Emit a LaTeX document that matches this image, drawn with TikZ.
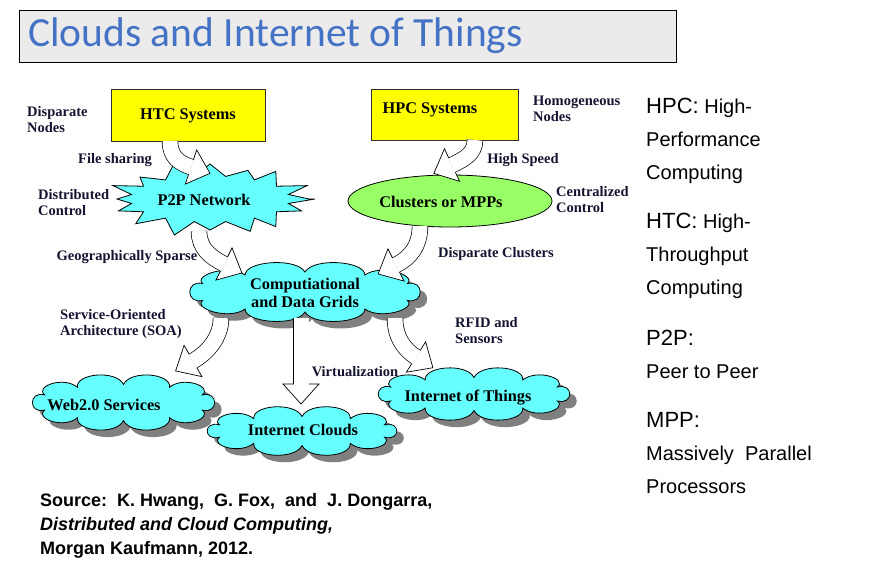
\documentclass[tikz,border=0pt]{standalone}
\usepackage{fontspec}
\setmainfont{Liberation Serif}
\newfontfamily\sidefont{Liberation Sans}
\newfontfamily\titlefont{Carlito}
\usetikzlibrary{shapes.geometric,decorations.markings}

\definecolor{titleblue}{RGB}{68,114,196}
\definecolor{titlegray}{RGB}{235,235,235}
\definecolor{sysyellow}{RGB}{255,255,0}
\definecolor{netcyan}{RGB}{102,255,255}
\definecolor{mppgreen}{RGB}{153,255,102}
\definecolor{notenavy}{RGB}{20,20,50}

% cloud outline: centre x, centre y, half width, half height of the puff ring
\newcommand{\puffring}[4]{%
  ({#1+#3*cos(25)},{#2+#4*sin(25)})
  \foreach \a/\b in {25/58,58/90,90/122,122/155,155/205,205/238,238/270,270/302,302/335,335/385} {
    .. controls ({#1+(#3+15)*cos(\a+4)},{#2+(#4+15)*sin(\a+4)})
            and ({#1+(#3+15)*cos(\b-4)},{#2+(#4+15)*sin(\b-4)})
    .. ({#1+#3*cos(\b)},{#2+#4*sin(\b)})
  } -- cycle}
\newcommand{\puffcloud}[4]{%
  \fill[black!50] \puffring{#1+7}{#2+7}{#3}{#4};
  \draw[line width=0.8pt, fill=netcyan] \puffring{#1}{#2}{#3}{#4};}

\tikzset{
  boxtext/.style={inner sep=0pt, align=center, font=\fontsize{16.3}{18}\selectfont\bfseries},
  sysbox/.style={draw=black!80, line width=0.8pt, fill=sysyellow},
  remark/.style={text=notenavy, font=\fontsize{14.5}{16}\selectfont\bfseries, align=left, inner sep=0pt},
  sidenote/.style={font=\sidefont\fontsize{20}{33}\selectfont, align=left, inner sep=0pt, anchor=west},
  fatshaft/.style={draw=black, line width=0.7pt, double=white, double distance=15pt},
  fathead/.style={decorate, decoration={markings, mark=at position 1 with {
      \draw[line width=0.7pt, fill=white] (0pt,-18pt) -- (20pt,0pt) -- (0pt,18pt) -- cycle;
      \fill[white] (-1pt,-7.5pt) rectangle (0.6pt,7.5pt);}}}
}

\begin{document}
\begin{tikzpicture}[x=1pt,y=-1pt]
  \path[use as bounding box, fill=white] (0,0) rectangle (880,568);

  % title
  \node[draw=black, line width=0.8pt, fill=titlegray, minimum width=657pt, minimum height=52pt,
    anchor=north west] (titlebox) at (19,10) {};
  \node[anchor=base west, inner sep=0pt, text=titleblue, font=\titlefont\fontsize{41.5}{44}\selectfont]
    (title) at (28,46) {Clouds and Internet of Things};

  % systems
  \node[sysbox, minimum width=154pt, minimum height=52pt] (htc) at (188,115) {};
  \node[boxtext] (htctext) at (188,116) {HTC Systems};
  \node[sysbox, minimum width=147pt, minimum height=51pt] (hpc) at (444.5,114.5) {};
  \node[boxtext] (hpctext) at (430,110) {HPC Systems};
  % P2P starburst
  \draw[line width=0.8pt, fill=netcyan] (315,199)
    \foreach \k in {0,...,15} {
      -- ({210+80*cos(\k*22.5+11.25)}, {199+23*sin(\k*22.5+11.25)})
      -- ({210+(105-6*mod(\k+1,3))*cos((\k+1)*22.5)}, {199+(39-4*mod(\k+2,3))*sin((\k+1)*22.5)})
    } -- cycle;
  \node[boxtext] (p2ptext) at (204,200) {P2P Network};
  \node[ellipse, draw=black, line width=0.8pt, fill=mppgreen, minimum width=204pt, minimum height=52pt]
    (mpp) at (450,201) {};
  \node[boxtext] (mpptext) at (441,202) {Clusters or MPPs};

  % clouds
  \puffcloud{305}{292}{113}{20}
  \node[boxtext] (gridstext) at (305,293) {Computiational\\and Data Grids};
  \puffcloud{123.5}{402.5}{87}{18}
  \node[boxtext] (webtext) at (104,405) {Web2.0 Services};
  \puffcloud{302}{431}{91}{14.5}
  \node[boxtext] (inettext) at (303,430) {Internet Clouds};
  \puffcloud{474}{394}{92}{16.5}
  \node[boxtext] (iottext) at (468,398) {Internet of Things};

  % arrow ends
  \coordinate (htcout) at (170,141);   \coordinate (p2pin) at (191,167);
  \coordinate (hpcout) at (475,140);   \coordinate (mppin) at (452,165);
  \coordinate (p2pout) at (199,231);   \coordinate (gridsinl) at (224,264);
  \coordinate (mppout) at (420,226);   \coordinate (gridsinr) at (396,265);
  \coordinate (gridsoutl) at (221,318); \coordinate (webin) at (193,361);
  \coordinate (gridsoutm) at (301,318); \coordinate (inetin) at (301,384);
  \coordinate (gridsoutr) at (395,318); \coordinate (iotin) at (416,357);

  % fat arrows
  \draw[fatshaft] (htcout) .. controls (170,157) and (179,163) .. (p2pin);
  \path[fathead] (htcout) .. controls (170,157) and (179,163) .. (p2pin);
  \draw[fatshaft] (hpcout) .. controls (475,153) and (465,159) .. (mppin);
  \path[fathead] (hpcout) .. controls (475,153) and (465,159) .. (mppin);
  \draw[fatshaft] (p2pout) .. controls (199,248) and (210,257) .. (gridsinl);
  \path[fathead] (p2pout) .. controls (199,248) and (210,257) .. (gridsinl);
  \draw[fatshaft] (mppout) .. controls (420,246) and (410,258) .. (gridsinr);
  \path[fathead] (mppout) .. controls (420,246) and (410,258) .. (gridsinr);
  \draw[fatshaft] (gridsoutl) .. controls (221,338) and (207,353) .. (webin);
  \path[fathead] (gridsoutl) .. controls (221,338) and (207,353) .. (webin);
  \draw[fatshaft] (gridsoutm) -- (inetin);
  \path[fathead] (gridsoutm) -- (inetin);
  \draw[fatshaft] (gridsoutr) .. controls (395,338) and (405,350) .. (iotin);
  \path[fathead] (gridsoutr) .. controls (395,338) and (405,350) .. (iotin);

  % labels
  \node[remark, anchor=west] (dispnodes) at (27,120) {Disparate\\Nodes};
  \node[remark] (fileshare) at (115,160) {File sharing};
  \node[remark, anchor=west] (distctrl) at (38,203) {Distributed\\Control};
  \node[remark] (geosparse) at (127,257) {Geographically Sparse};
  \node[remark, anchor=west] (soa) at (60,324) {Service-Oriented\\Architecture (SOA)};
  \node[remark, anchor=west] (homog) at (533,109) {Homogeneous\\Nodes};
  \node[remark] (highspeed) at (523,160) {High Speed};
  \node[remark, anchor=west] (centctrl) at (556,200) {Centralized\\Control};
  \node[remark] (dispclus) at (496,254) {Disparate Clusters};
  \node[remark, anchor=west] (rfid) at (455,331) {RFID and\\Sensors};
  \node[remark] (virt) at (355,372) {Virtualization};

  % glossary
  \node[sidenote] (hpcdef) at (646,141) {{\fontsize{22}{33}\selectfont HPC:} High-\\Performance\\Computing};
  \node[sidenote] (htcdef) at (646,256) {{\fontsize{22}{33}\selectfont HTC:} High-\\Throughput\\Computing};
  \node[sidenote] (p2pdef) at (646,354) {{\fontsize{22}{33}\selectfont P2P:}\\Peer to Peer};
  \node[sidenote] (mppdef) at (646,453) {{\fontsize{22}{33}\selectfont MPP:}\\Massively\ \ Parallel\\Processors};

  % source
  \node[anchor=west, align=left, inner sep=0pt, font=\sidefont\bfseries\fontsize{18}{24}\selectfont]
    (source) at (40,526) {Source:\ \ K. Hwang,\ \ G. Fox,\ \ and\ \ J. Dongarra,\\
    \textit{Distributed and Cloud Computing,}\\Morgan Kaufmann, 2012.};
\end{tikzpicture}
\end{document}
